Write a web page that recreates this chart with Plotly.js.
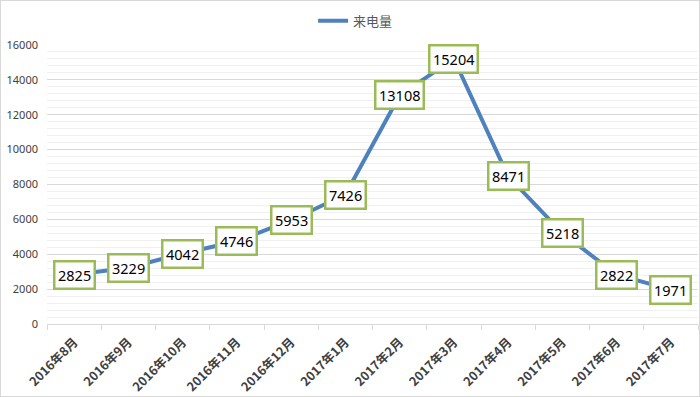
<!DOCTYPE html>
<html><head><meta charset="utf-8">
<script src="https://cdn.plot.ly/plotly-3.0.1.min.js"></script>
<style>html,body{margin:0;padding:0;background:#fff}#c{width:698px;height:395px;border:1px solid #d9d9d9}</style>
</head><body><div id="c"></div>
<script>
const months = ['2016年8月','2016年9月','2016年10月','2016年11月','2016年12月','2017年1月','2017年2月','2017年3月','2017年4月','2017年5月','2017年6月','2017年7月'];
const calls = [2825,3229,4042,4746,5953,7426,13108,15204,8471,5218,2822,1971];
const seriesName = '来电量';
const yTicks = [0,2000,4000,6000,8000,10000,12000,14000,16000];

const font = '"Noto Sans CJK SC", "Noto Sans", sans-serif';
const annotations = months.map((m,i)=>({
  x: m, y: calls[i], xref:'x', yref:'y', text: String(calls[i]), showarrow:false,
  font:{family:'"Noto Sans", "Noto Sans CJK SC", sans-serif', size:14.5, color:'#000'},
  bgcolor:'#fff', bordercolor:'#9BBB59', borderwidth:2.5, borderpad:2.5,
  xanchor:'center', yanchor:'middle'
}));

Plotly.newPlot('c', [{
  type:'scatter', mode:'lines', x:months, y:calls, name:seriesName,
  line:{color:'#4F81BD', width:4}
}], {
  width:698, height:395,
  margin:{l:46, r:1, t:44, b:72},
  paper_bgcolor:'#fff', plot_bgcolor:'#fff',
  showlegend:true,
  legend:{orientation:'h', x:0.474, xanchor:'center', y:0.95, yanchor:'middle', yref:'container',
          font:{family:font, size:13, color:'#595959'}},
  xaxis:{type:'category', range:[-0.5, months.length-0.5], tickson:'boundaries', ticks:'outside', ticklen:5, tickcolor:'#d9d9d9',
         showline:true, linecolor:'#d9d9d9', linewidth:1, showgrid:false, ticklabelstandoff:5,
         tickangle:-45, tickfont:{family:font, size:12.5, color:'#404040', weight:'bold'}},
  yaxis:{range:[0,16000], tickvals:yTicks, ticktext:yTicks.map(String), showline:false,
         gridcolor:'#d9d9d9', gridwidth:1, zeroline:false,
         tickfont:{family:'"Noto Sans", sans-serif', size:11, color:'#404040'},
         minor:{dtick:400, showgrid:true, gridcolor:'#f0f0f0', gridwidth:1, tick0:0},
         ticklabelstandoff:8},
  annotations: annotations
}, {displayModeBar:false, staticPlot:true});
</script></body></html>
